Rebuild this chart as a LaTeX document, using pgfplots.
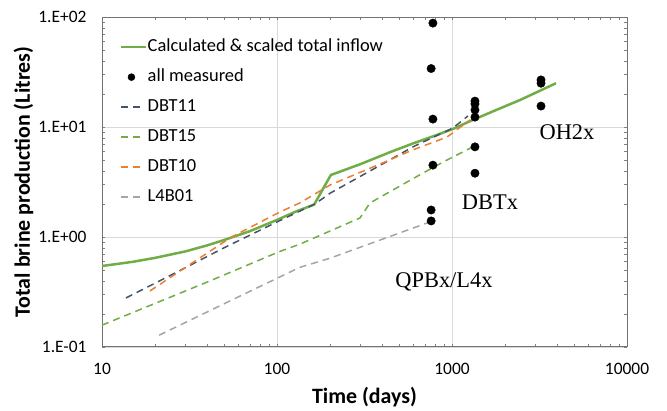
\documentclass[border=0pt]{standalone}
\usepackage{pgfplots}
\pgfplotsset{compat=1.18}
\usepackage{fontspec}
\setmainfont{Carlito}
\newfontfamily\timesfont{Liberation Serif}
\definecolor{xgreen}{HTML}{70AD47}
\definecolor{xblue}{HTML}{44546A}
\definecolor{xorange}{HTML}{ED7D31}
\definecolor{xgray}{HTML}{A5A5A5}
\definecolor{xgrid}{HTML}{D9D9D9}
\begin{document}
\begin{tikzpicture}
\begin{axis}[
  name=ax,
  scale only axis,
  width=525bp, height=330bp,
  xmode=log, ymode=log,
  xmin=10, xmax=10000, ymin=0.1, ymax=100,
  xtick={10,100,1000,10000},
  xticklabels={\textrm{10},\textrm{100},\textrm{1000},\textrm{10000}},
  ytick={0.1,1,10,100},
  yticklabels={\textrm{1.E-01},\textrm{1.E+00},\textrm{1.E+01},\textrm{1.E+02}},
  minor xtick={}, minor ytick={},
  major tick length=0pt,
  grid=major,
  major grid style={draw=xgrid, line width=0.8bp},
  axis line style={draw=black!55, line width=1bp},
  tick label style={font=\fontsize{17.5}{21}\selectfont},
  xticklabel style={yshift=-13bp},
  yticklabel style={xshift=-12bp},
  xlabel={\textbf{Time (days)}},
  ylabel={\textbf{Total brine production (Litres)}},
  label style={font=\fontsize{22}{26}\selectfont},
  xlabel style={at={(axis description cs:0.5,0)}, anchor=base, yshift=-57bp},
  ylabel style={at={(axis description cs:-0.1495,0.5)}, anchor=center},
  legend cell align=left,
  legend style={at={(0.0343,0.935)}, anchor=north west, draw=none, fill=none,
    font=\fontsize{18.5}{22}\selectfont, row sep=13bp, inner sep=0pt,
    nodes={inner sep=0pt, text height=13bp, text depth=4bp},
    /tikz/every even column/.append style={column sep=1bp}},
  legend image code/.code={\draw[#1] (0bp,0bp) -- (19bp,0bp);},
]
\addplot[xgreen, line width=2.5bp,
  legend image code/.code={\draw[xgreen, line width=2.5bp] (0bp,0bp) -- (25bp,0bp);}] coordinates {
 (10,0.545) (15,0.595) (20,0.645) (30,0.74) (40,0.84) (50,0.94) (70,1.13)
 (100,1.43) (130,1.72) (163,1.97) (203,3.66) (300,4.6) (442,5.9) (600,7.1)
 (800,8.35) (1013,9.6) (1268,11.3) (1700,13.8) (2449,17.6) (3930,25.0)};
\addlegendentry{Calculated \& scaled total inflow}
\addplot[only marks, mark=*, mark size=4.2bp, black,
  legend image code/.code={\fill[black] (10bp,0bp) circle (3.5bp);}] coordinates {
 (778,88) (760,34) (778,11.8) (778,4.5) (760,1.76) (760,1.40)
 (1353,17.2) (1353,16.2) (1353,14.3) (1353,12.3) (1353,6.6) (1353,3.8)
 (3226,26.8) (3226,25) (3226,15.5)};
\addlegendentry{all measured}
\addplot[xblue, line width=1.5bp, dash pattern=on 7bp off 5bp] coordinates {
 (13.7,0.279) (26.8,0.48) (50,0.80) (100,1.37) (165,2.0) (201,2.5)
 (400,4.6) (598,6.6) (1013,9.8) (1233,12.6)};
\addlegendentry{DBT11}
\addplot[xgreen, line width=1.5bp, dash pattern=on 7bp off 5bp] coordinates {
 (10,0.158) (40,0.39) (104,0.74) (135,0.86) (298,1.49) (340,2.04)
 (600,3.4) (889,4.8) (1315,6.6)};
\addlegendentry{DBT15}
\addplot[xorange, line width=1.5bp, dash pattern=on 7bp off 5bp] coordinates {
 (18.8,0.323) (26.8,0.47) (55,1.0) (104,1.69) (135,2.04) (201,2.97)
 (400,4.7) (598,6.2) (936,8.1) (1268,11.6)};
\addlegendentry{DBT10}
\addplot[xgray, line width=1.5bp, dash pattern=on 7bp off 5bp] coordinates {
 (21.2,0.128) (60,0.285) (135,0.53) (200,0.64) (327,0.85) (748,1.37)};
\addlegendentry{L4B01}
\node[font=\timesfont\fontsize{22.5}{26}\selectfont, anchor=base] at (axis cs:4540,7.62) {OH2x};
\node[font=\timesfont\fontsize{22.5}{26}\selectfont, anchor=base] at (axis cs:1648,1.76) {DBTx};
\node[font=\timesfont\fontsize{22.5}{26}\selectfont, anchor=base] at (axis cs:900,0.351) {QPBx/L4x};
\end{axis}
\path ([xshift=-102bp,yshift=-62bp]ax.south west) rectangle ([xshift=40bp,yshift=17bp]ax.north east);
\end{tikzpicture}
\end{document}
